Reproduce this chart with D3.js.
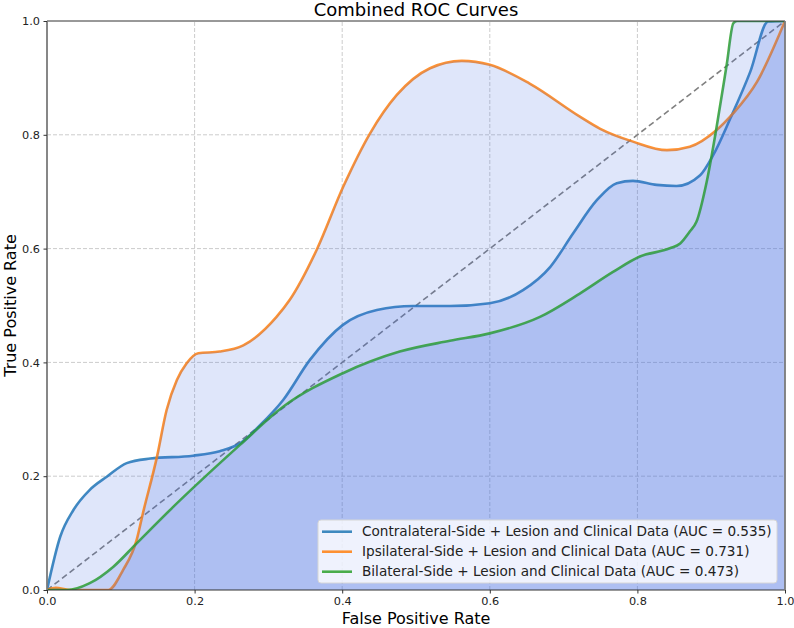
<!DOCTYPE html>
<html>
<head>
<meta charset="utf-8">
<script src="https://cdn.jsdelivr.net/npm/d3@7"></script>
<style>
  body { margin: 0; background: #fff; }
  svg { font-family: "DejaVu Sans", sans-serif; }
</style>
</head>
<body>
<div id="chart"></div>
<script>
// values
var ticks = [0, 0.2, 0.4, 0.6, 0.8, 1.0];

var contraFpr = [0, 0.018, 0.036, 0.058, 0.081, 0.108, 0.14, 0.198, 0.234, 0.262, 0.289, 0.32, 0.356, 0.401, 0.447, 0.496, 0.546, 0.6, 0.645, 0.682, 0.713, 0.745, 0.772, 0.794, 0.826, 0.853, 0.885, 0.903, 0.926, 0.953, 0.977, 1.0];
var contraTpr = [0, 0.094, 0.141, 0.176, 0.199, 0.223, 0.231, 0.236, 0.244, 0.258, 0.29, 0.334, 0.404, 0.466, 0.492, 0.499, 0.499, 0.504, 0.527, 0.568, 0.627, 0.685, 0.715, 0.719, 0.712, 0.71, 0.729, 0.765, 0.829, 0.911, 0.999, 1.0];

var ipsiFpr = [0, 0.012, 0.03, 0.083, 0.103, 0.1215, 0.13, 0.149, 0.162, 0.176, 0.189, 0.205, 0.234, 0.266, 0.311, 0.329, 0.3655, 0.4015, 0.438, 0.474, 0.519, 0.562, 0.6, 0.654, 0.722, 0.749, 0.794, 0.84, 0.871, 0.907, 0.93, 0.962, 1.0];
var ipsiTpr = [0, 0.004, 0, 0, 0.035, 0.088, 0.135, 0.234, 0.316, 0.369, 0.398, 0.416, 0.419, 0.43, 0.48, 0.51, 0.598, 0.709, 0.803, 0.87, 0.917, 0.93, 0.923, 0.89, 0.832, 0.811, 0.788, 0.773, 0.779, 0.808, 0.838, 0.893, 1.0];

var bilatFpr = [0, 0.027, 0.058, 0.09, 0.1215, 0.171, 0.2615, 0.32, 0.401, 0.478, 0.546, 0.6, 0.668, 0.722, 0.767, 0.8035, 0.844, 0.858, 0.871, 0.88, 0.894, 0.907, 0.921, 0.93, 0.935, 1.0];
var bilatTpr = [0, 0, 0.012, 0.041, 0.082, 0.146, 0.255, 0.322, 0.381, 0.419, 0.438, 0.451, 0.48, 0.521, 0.559, 0.586, 0.6005, 0.609, 0.63, 0.647, 0.718, 0.811, 0.923, 0.996, 1.0, 1.0];

var labels = [
  'Contralateral-Side + Lesion and Clinical Data (AUC = 0.535)',
  'Ipsilateral-Side + Lesion and Clinical Data (AUC = 0.731)',
  'Bilateral-Side + Lesion and Clinical Data (AUC = 0.473)'
];
var colors = ['#1f77b4', '#ff7f0e', '#2ca02c'];

var series = [
  { fpr: contraFpr, tpr: contraTpr },
  { fpr: ipsiFpr, tpr: ipsiTpr },
  { fpr: bilatFpr, tpr: bilatTpr }
];

var W = 794, H = 628;
var margin = { top: 21, right: 9, bottom: 38, left: 47 };

var x = d3.scaleLinear().domain([0, 1]).range([margin.left, W - margin.right]);
var y = d3.scaleLinear().domain([0, 1]).range([H - margin.bottom, margin.top]);

var svg = d3.select('#chart').append('svg')
  .attr('width', W)
  .attr('height', H);

svg.append('clipPath').attr('id', 'plot')
  .append('rect')
  .attr('x', x(0)).attr('y', y(1))
  .attr('width', x(1) - x(0)).attr('height', y(0) - y(1));

// grid
var grid = svg.append('g').attr('class', 'grid');
grid.selectAll('line.gx')
  .data(ticks.slice(1, -1))
  .enter().append('line')
  .attr('x1', function(d) { return x(d); })
  .attr('x2', function(d) { return x(d); })
  .attr('y1', y(0)).attr('y2', y(1));
grid.selectAll('line.gy')
  .data(ticks.slice(1, -1))
  .enter().append('line')
  .attr('y1', function(d) { return y(d); })
  .attr('y2', function(d) { return y(d); })
  .attr('x1', x(0)).attr('x2', x(1));
grid.selectAll('line')
  .attr('stroke', '#cccccc')
  .attr('stroke-width', 1)
  .attr('stroke-dasharray', '4,2');

var plot = svg.append('g').attr('clip-path', 'url(#plot)');

// chance line
plot.append('line')
  .attr('x1', x(0)).attr('y1', y(0))
  .attr('x2', x(1)).attr('y2', y(1))
  .attr('stroke', '#808080')
  .attr('stroke-width', 1.6)
  .attr('stroke-dasharray', '6,3.5');

var line = d3.line()
  .x(function(d) { return x(d[0]); })
  .y(function(d) { return y(d[1]); })
  .curve(d3.curveMonotoneX);

var area = d3.area()
  .x(function(d) { return x(d[0]); })
  .y0(y(0))
  .y1(function(d) { return y(d[1]); })
  .curve(d3.curveMonotoneX);

series.forEach(function(s, i) {
  var pts = s.fpr.map(function(f, j) { return [f, s.tpr[j]]; });
  plot.append('path')
    .attr('d', line(pts))
    .attr('fill', 'none')
    .attr('stroke', colors[i])
    .attr('stroke-opacity', 0.85)
    .attr('stroke-width', 2.6);
  plot.append('path')
    .attr('d', area(pts))
    .attr('fill', 'royalblue')
    .attr('fill-opacity', 0.17);
});

// spines
svg.append('line').attr('x1', x(0)).attr('x2', x(1)).attr('y1', y(1)).attr('y2', y(1))
  .attr('stroke', '#333').attr('stroke-width', 1);
svg.append('line').attr('x1', x(0)).attr('x2', x(1)).attr('y1', y(0)).attr('y2', y(0))
  .attr('stroke', '#333').attr('stroke-width', 1);
svg.append('line').attr('x1', x(0)).attr('x2', x(0)).attr('y1', y(0)).attr('y2', y(1))
  .attr('stroke', '#7a7a7a').attr('stroke-width', 1.8);
svg.append('line').attr('x1', x(1)).attr('x2', x(1)).attr('y1', y(0)).attr('y2', y(1))
  .attr('stroke', '#7a7a7a').attr('stroke-width', 1.8);

// axes
var xAxis = d3.axisBottom(x).tickValues(ticks).tickFormat(d3.format('.1f')).tickSize(3.5).tickPadding(3.5);
var yAxis = d3.axisLeft(y).tickValues(ticks).tickFormat(d3.format('.1f')).tickSize(3.5).tickPadding(3.5);

var gx = svg.append('g').attr('transform', 'translate(0,' + y(0) + ')').call(xAxis);
var gy = svg.append('g').attr('transform', 'translate(' + x(0) + ',0)').call(yAxis);
[gx, gy].forEach(function(g) {
  g.select('.domain').remove();
  g.selectAll('line').attr('stroke', '#333');
  g.selectAll('text').attr('font-size', 11.3).attr('fill', '#222')
    .attr('font-family', '"DejaVu Sans", sans-serif');
});

// title and labels
svg.append('text')
  .attr('x', (x(0) + x(1)) / 2).attr('y', 16)
  .attr('text-anchor', 'middle')
  .attr('font-size', 18)
  .text('Combined ROC Curves');

svg.append('text')
  .attr('x', (x(0) + x(1)) / 2).attr('y', 624)
  .attr('text-anchor', 'middle')
  .attr('font-size', 16)
  .text('False Positive Rate');

svg.append('text')
  .attr('transform', 'translate(16,' + (y(0) + y(1)) / 2 + ') rotate(-90)')
  .attr('text-anchor', 'middle')
  .attr('font-size', 16)
  .text('True Positive Rate');

// legend
var legend = svg.append('g').attr('transform', 'translate(318,520)');
legend.append('rect')
  .attr('width', 459).attr('height', 63)
  .attr('rx', 3)
  .attr('fill', '#fff').attr('fill-opacity', 0.8)
  .attr('stroke', '#d6d6d6');

var rows = legend.selectAll('g.row')
  .data(labels)
  .enter().append('g')
  .attr('transform', function(d, i) { return 'translate(0,' + (11.7 + i * 20) + ')'; });
rows.append('line')
  .attr('x1', 4).attr('x2', 34)
  .attr('stroke', function(d, i) { return colors[i]; })
  .attr('stroke-opacity', 0.85)
  .attr('stroke-width', 2.6);
rows.append('text')
  .attr('x', 44).attr('dy', '0.35em')
  .attr('font-size', 13.6)
  .attr('fill', '#222')
  .text(function(d) { return d; });
</script>
</body>
</html>
